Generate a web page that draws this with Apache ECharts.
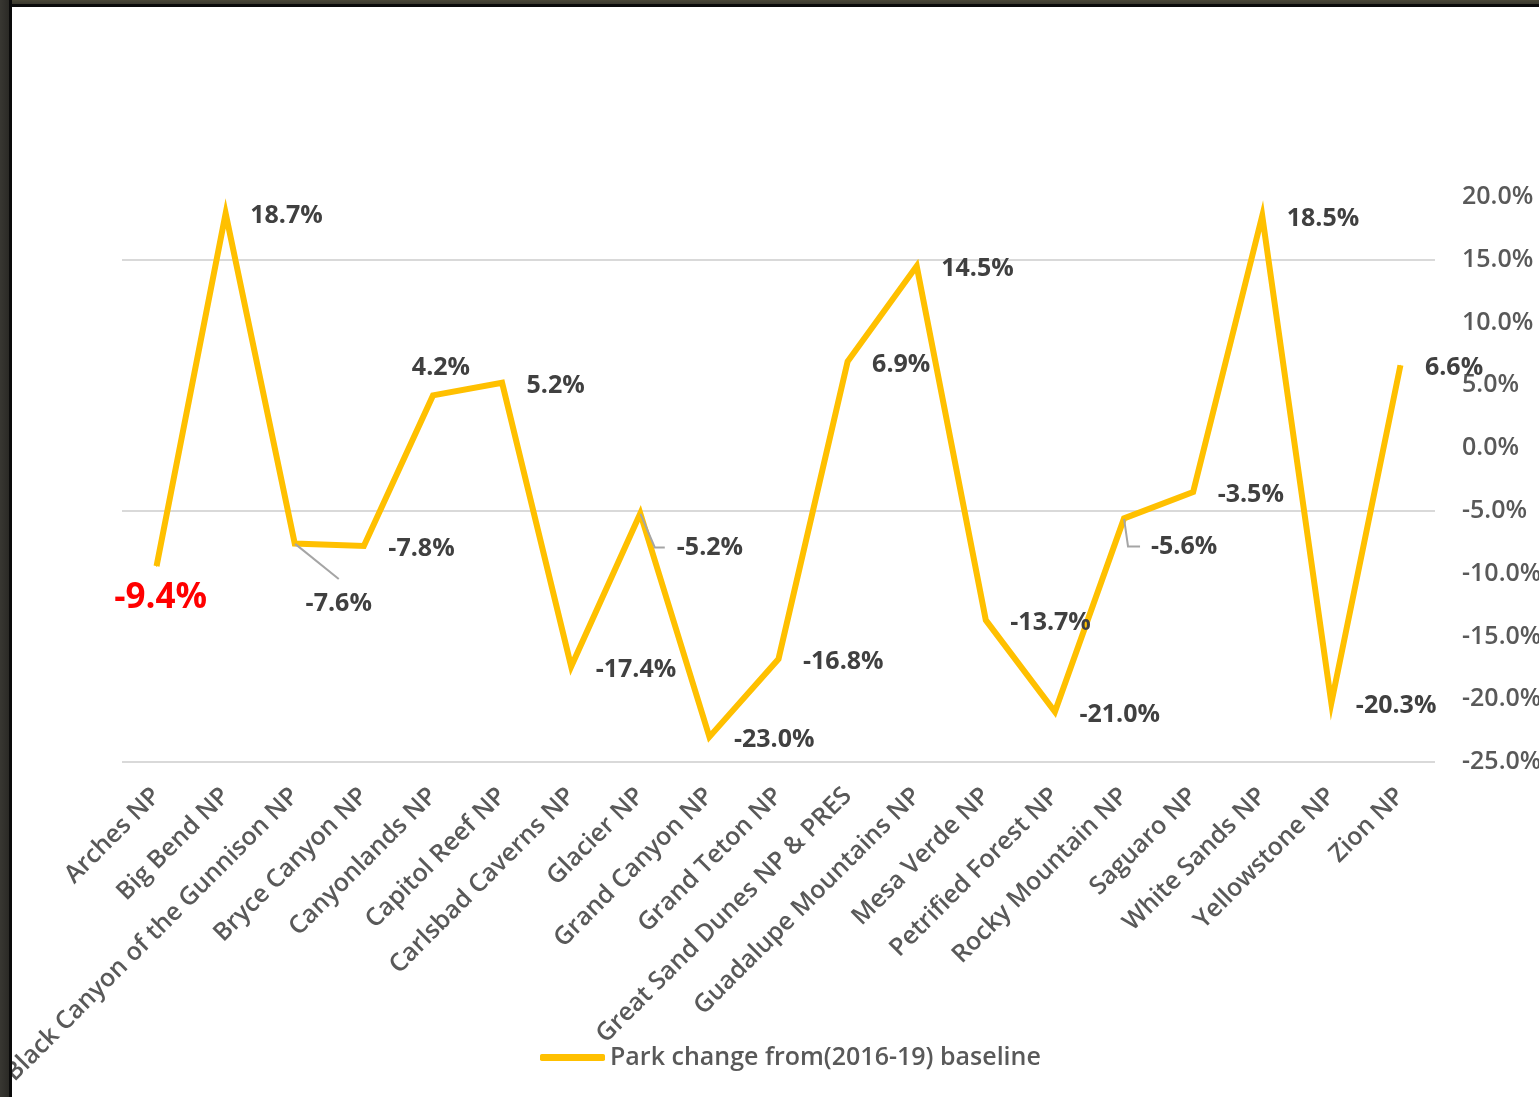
<!DOCTYPE html>
<html>
<head>
<meta charset="utf-8">
<title>Park change from (2016-19) baseline</title>
<script src="https://cdn.jsdelivr.net/npm/echarts@6/dist/echarts.min.js"></script>
<style>
  html, body { margin: 0; padding: 0; background: #ffffff; width: 1539px; height: 1097px; overflow: hidden; }
  #chart { position: absolute; left: 0; top: 0; width: 1539px; height: 1097px; }
  /* dark window frame along the top and left edges */
  .frame-top { position: absolute; left: 0; top: 0; width: 1539px; height: 7px;
    background: linear-gradient(to bottom, #4a4737 0, #3b392f 4px, #0b0b0b 4px, #0b0b0b 7px); }
  .frame-left { position: absolute; left: 0; top: 0; width: 12px; height: 1097px;
    background: linear-gradient(to right, #383732 0, #2b2a26 9px, #0a0a0a 9px, #0a0a0a 12px); }
</style>
</head>
<body>
<div id="chart"></div>
<div class="frame-top"></div>
<div class="frame-left"></div>
<script>
// Parks (category axis)
const parks = [
  'Arches NP', 'Big Bend NP', 'Black Canyon of the Gunnison NP', 'Bryce Canyon NP',
  'Canyonlands NP', 'Capitol Reef NP', 'Carlsbad Caverns NP', 'Glacier NP',
  'Grand Canyon NP', 'Grand Teton NP', 'Great Sand Dunes NP & PRES', 'Guadalupe Mountains NP',
  'Mesa Verde NP', 'Petrified Forest NP', 'Rocky Mountain NP', 'Saguaro NP',
  'White Sands NP', 'Yellowstone NP', 'Zion NP'
];

// Percent change of visitation against the 2016-19 baseline
const changePct = [
  -9.4, 18.7, -7.6, -7.8,
  4.2, 5.2, -17.4, -5.2,
  -23.0, -16.8, 6.9, 14.5,
  -13.7, -21.0, -5.6, -3.5,
  18.5, -20.3, 6.6
];

const seriesName = 'Park change from(2016-19) baseline';

// Value axis range and label step (percent)
const axisMin = -25;
const axisMax = 20;
const axisStep = 5;
// Major gridlines every 20 points, counted up from the axis floor
const gridStep = 20;

const FONT = 'Open Sans';
const pct = v => v.toFixed(1) + '%';

// Label placement for points whose label does not sit just right of the point.
// Padded labels get a transparent box so the leader stops short of the text.
const defaultMove = [0, 3];
const labelTweaks = {
  'Arches NP': {
    label: { position: 'bottom', distance: 14, color: '#ff0000', fontSize: 35 },
    move: [4, 0]
  },
  'Canyonlands NP': {
    label: { position: 'top', distance: 15 },
    move: [8, 0]
  },
  'Black Canyon of the Gunnison NP': {
    label: { position: 'bottom', padding: [12, 0, 22, 0], backgroundColor: 'transparent' },
    move: [44, 11],
    leader: 0
  },
  'Glacier NP': {
    label: { padding: [0, 0, 0, 12], backgroundColor: 'transparent' },
    move: [0, 34],
    leader: 10
  },
  'Rocky Mountain NP': {
    label: { padding: [0, 0, 0, 11], backgroundColor: 'transparent' },
    move: [-8.5, 28],
    leader: 12
  }
};

const leaderStyle = { color: '#a5a5a5', width: 2 };

const seriesData = changePct.map((v, i) => {
  const t = labelTweaks[parks[i]];
  const item = { value: v };
  if (t && t.label) item.label = t.label;
  if (t && t.leader != null) {
    item.labelLine = { show: true, length2: t.leader, smooth: false, lineStyle: leaderStyle };
  }
  return item;
});

const chart = echarts.init(document.getElementById('chart'), null, { renderer: 'canvas' });

chart.setOption({
  animation: false,
  backgroundColor: 'transparent',
  textStyle: { fontFamily: FONT },
  grid: { left: 122, right: 104, top: 197, bottom: 335, outerBoundsMode: 'none', containLabel: false },
  legend: {
    data: [{ name: seriesName, icon: 'roundRect' }],
    left: 540,
    top: 1045,
    padding: 0,
    itemWidth: 65,
    itemHeight: 7,
    textStyle: { fontFamily: FONT, fontSize: 25, fontWeight: 600, color: '#595959' }
  },
  xAxis: {
    type: 'category',
    data: parks,
    boundaryGap: true,
    axisLine: { show: false },
    axisTick: { show: false },
    splitLine: { show: false },
    axisLabel: {
      interval: 0,
      rotate: 45,
      margin: 30,
      color: '#595959',
      fontFamily: FONT,
      fontSize: 25,
      fontWeight: 600
    }
  },
  yAxis: [
    {
      type: 'value',
      position: 'right',
      min: axisMin,
      max: axisMax,
      interval: axisStep,
      axisLine: { show: false },
      axisTick: { show: false },
      splitLine: { show: false },
      axisLabel: {
        formatter: pct,
        align: 'left',
        margin: 27,
        color: '#595959',
        fontFamily: FONT,
        fontSize: 25,
        fontWeight: 600
      }
    },
    {
      // helper axis measured from the floor: draws the major gridlines only
      type: 'value',
      position: 'left',
      min: 0,
      max: axisMax - axisMin,
      interval: gridStep,
      axisLine: { show: false },
      axisTick: { show: false },
      axisLabel: { show: false },
      splitLine: { show: true, showMinLine: true, showMaxLine: false, lineStyle: { color: '#d9d9d9', width: 2 } }
    }
  ],
  series: [
    {
      name: seriesName,
      type: 'line',
      yAxisIndex: 0,
      data: seriesData,
      symbol: 'circle',
      symbolSize: 1,
      showSymbol: true,
      itemStyle: { color: '#FFC000' },
      lineStyle: { color: '#FFC000', width: 6, join: 'miter' },
      label: {
        show: true,
        position: 'right',
        distance: 24,
        formatter: p => pct(p.value),
        color: '#404040',
        fontFamily: FONT,
        fontSize: 25,
        fontWeight: 700
      },
      labelLine: { show: false },
      labelLayout: params => {
        const t = labelTweaks[parks[params.dataIndex]];
        const m = (t && t.move) || defaultMove;
        return { dx: m[0], dy: m[1] };
      },
      emphasis: { disabled: true }
    }
  ]
});
</script>
</body>
</html>
